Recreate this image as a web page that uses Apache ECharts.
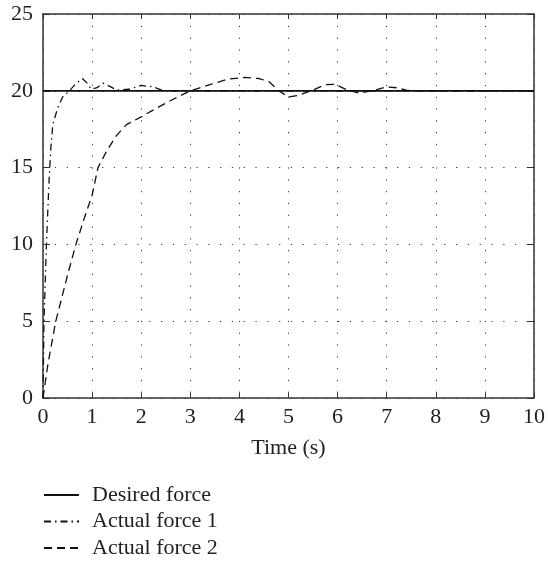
<!DOCTYPE html>
<html><head><meta charset="utf-8">
<script src="https://cdn.jsdelivr.net/npm/echarts@6/dist/echarts.min.js"></script>
<style>html,body{margin:0;padding:0;background:#fff}#c{width:548px;height:565px}</style>
</head><body><div id="c"></div>
<script>
const seriesNames = ['Desired force', 'Actual force 1', 'Actual force 2'];
const xTicks = [0,1,2,3,4,5,6,7,8,9,10];
const yTicks = [0,5,10,15,20,25];
const desired = [[0,20],[10,20]];
const actual1 = [[0,0],[0.02,5],[0.07,10],[0.12,13.9],[0.16,16.3],[0.2,17.8],[0.3,18.9],[0.4,19.6],[0.54,20.0],[0.65,20.4],[0.8,20.8],[0.9,20.5],[0.98,20.1],[1.1,20.2],[1.22,20.5],[1.35,20.3],[1.5,20.05],[1.75,20.1],[2.0,20.35],[2.25,20.25],[2.45,20.0],[3,20],[10,20]];
const actual2 = [[0,0],[0.1,2.2],[0.26,5],[0.5,8],[0.67,10],[0.85,11.8],[1.0,13.2],[1.12,15],[1.3,16.1],[1.5,17.1],[1.7,17.8],[2.0,18.3],[2.3,18.85],[2.65,19.45],[3.0,20.0],[3.4,20.4],[3.75,20.75],[4.1,20.87],[4.4,20.8],[4.6,20.6],[4.8,20.0],[5.0,19.6],[5.2,19.7],[5.5,20.05],[5.75,20.4],[5.95,20.42],[6.2,20.05],[6.45,19.85],[6.7,20.0],[7.0,20.25],[7.2,20.2],[7.4,20.04],[7.6,20.0],[10,20]];

const font = 'Liberation Serif';
const chart = echarts.init(document.getElementById('c'));
const axisLine = {show:true, onZero:false, lineStyle:{color:'#333', width:1.5}};
const xtick = {show:true, inside:true, length:5, lineStyle:{color:'#333', width:1}};
const ytick = {show:true, inside:true, length:7, lineStyle:{color:'#333', width:1}};
const grid = {show:true, lineStyle:{color:'#444', width:1, type:[1.3,10.5]}};
const hidden = {color:'rgba(0,0,0,0)', borderWidth:0};
chart.setOption({
  animation:false,
  backgroundColor:'#fff',
  grid:{left:43, right:14, top:14, bottom:167, containLabel:false},
  legend:{
    orient:'vertical', left:43, top:484, padding:0,
    itemWidth:35, itemHeight:14, itemGap:4.5,
    data:seriesNames,
    textStyle:{fontFamily:font, fontSize:22, lineHeight:22, color:'#222', padding:[0,0,0,8]}
  },
  xAxis:[{
    type:'value', min:xTicks[0], max:xTicks[xTicks.length-1], interval:1,
    name:'Time (s)', nameLocation:'middle', nameGap:39,
    nameTextStyle:{fontFamily:font, fontSize:22, color:'#222'},
    axisLine:axisLine, axisTick:xtick,
    axisLabel:{fontFamily:font, fontSize:22, color:'#222', margin:8},
    splitLine:grid
  },{
    type:'value', position:'top', min:xTicks[0], max:xTicks[xTicks.length-1], interval:1,
    axisLine:axisLine, axisTick:xtick, axisLabel:{show:false}, splitLine:{show:false}
  }],
  yAxis:[{
    type:'value', min:yTicks[0], max:yTicks[yTicks.length-1], interval:5,
    axisLine:axisLine, axisTick:ytick,
    axisLabel:{fontFamily:font, fontSize:22, color:'#222', margin:10},
    splitLine:grid
  },{
    type:'value', position:'right', min:yTicks[0], max:yTicks[yTicks.length-1], interval:5,
    axisLine:axisLine, axisTick:ytick, axisLabel:{show:false}, splitLine:{show:false}
  }],
  series:[
    {name:seriesNames[0], type:'line', data:desired, symbol:'none', lineStyle:{color:'#111', width:1.8, type:'solid'}, itemStyle:hidden},
    {name:seriesNames[1], type:'line', data:actual1, symbol:'none', lineStyle:{color:'#111', width:1.3, type:[7,4,1.5,4]}, itemStyle:hidden},
    {name:seriesNames[2], type:'line', data:actual2, symbol:'none', lineStyle:{color:'#111', width:1.3, type:[8,5]}, itemStyle:hidden}
  ]
});
</script></body></html>
